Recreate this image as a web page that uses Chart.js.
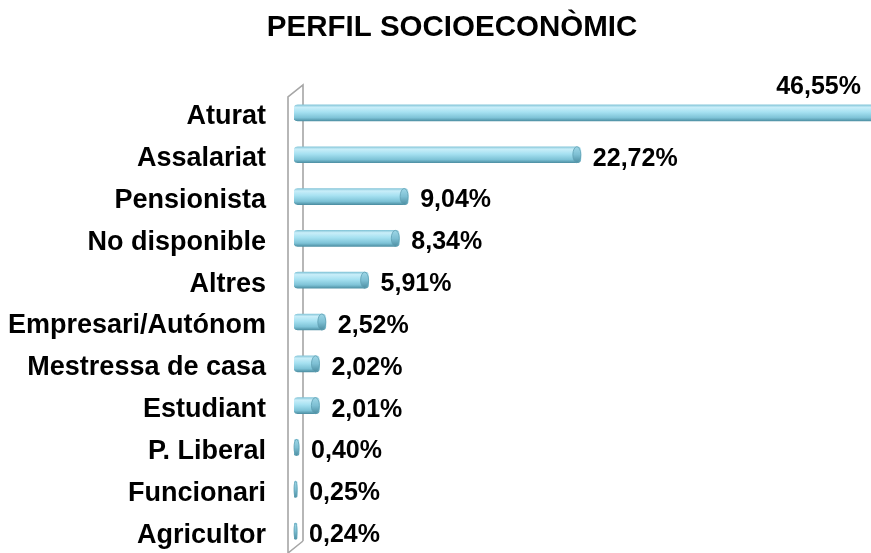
<!DOCTYPE html>
<html>
<head>
<meta charset="utf-8">
<script src="https://cdn.jsdelivr.net/npm/chart.js@4"></script>
<style>
  body { margin: 0; background: #fff; }
  #wrap { width: 871px; height: 553px; position: relative; }
</style>
</head>
<body>
<div id="wrap"><canvas id="perfilChart"></canvas></div>
<script>
const titleText = 'PERFIL SOCIOECONÒMIC';
const categories = ['Aturat', 'Assalariat', 'Pensionista', 'No disponible', 'Altres',
  'Empresari/Autónom', 'Mestressa de casa', 'Estudiant', 'P. Liberal', 'Funcionari', 'Agricultor'];
const percentages = [46.55, 22.72, 9.04, 8.34, 5.91, 2.52, 2.02, 2.01, 0.40, 0.25, 0.24];

const fontFamily = '"Liberation Sans", Arial, sans-serif';

function fmt(v) {
  return v.toFixed(2).replace('.', ',') + '%';
}

// gradient for the cylinder look, made per bar
function barGradient(context) {
  const chart = context.chart;
  const yScale = chart.scales.y;
  if (!yScale || context.dataIndex === undefined) return '#9ad8ec';
  const yc = yScale.getPixelForValue(context.dataIndex);
  if (!isFinite(yc)) return '#9ad8ec';
  const g = chart.ctx.createLinearGradient(0, yc - 8, 0, yc + 8);
  g.addColorStop(0, '#86c6d9');
  g.addColorStop(0.15, '#c9eef9');
  g.addColorStop(0.45, '#a6e1f1');
  g.addColorStop(0.8, '#7ec3d7');
  g.addColorStop(1, '#4f91a5');
  return g;
}

const extras = {
  id: 'extras',
  beforeDatasetsDraw(chart) {
    const ctx = chart.ctx;
    const a = chart.chartArea;
    // the little side wall
    const l = a.left - 6, r = a.left + 9;
    ctx.save();
    ctx.strokeStyle = '#a6a6a6';
    ctx.lineWidth = 1.6;
    ctx.beginPath();
    ctx.moveTo(r, 541);
    ctx.lineTo(r, 85);
    ctx.lineTo(l, 97);
    ctx.lineTo(l, 553);
    ctx.lineTo(r, 541);
    ctx.stroke();
    ctx.restore();
  },
  afterDatasetsDraw(chart) {
    const ctx = chart.ctx;
    const a = chart.chartArea;
    const meta = chart.getDatasetMeta(0);
    ctx.save();
    meta.data.forEach((bar, i) => {
      // end cap
      if (bar.x < a.right) {
        const w = bar.x - bar.base;
        const rx = Math.max(1, Math.min(4, w / 2));
        const g = ctx.createLinearGradient(0, bar.y - 8, 0, bar.y + 8);
        g.addColorStop(0, '#9fd7e7');
        g.addColorStop(0.5, '#7dbfd3');
        g.addColorStop(1, '#4d8ea2');
        ctx.beginPath();
        ctx.ellipse(bar.x - rx, bar.y, rx, 8, 0, 0, Math.PI * 2);
        ctx.fillStyle = g;
        ctx.fill();
        ctx.strokeStyle = '#5f9fb2';
        ctx.lineWidth = 0.8;
        ctx.stroke();
      }
      // value label
      ctx.fillStyle = '#000';
      ctx.font = 'bold 25px ' + fontFamily;
      ctx.textBaseline = 'middle';
      if (bar.x >= a.right) {
        ctx.textAlign = 'right';
        ctx.fillText(fmt(percentages[i]), 861, 87);
      } else {
        ctx.textAlign = 'left';
        ctx.fillText(fmt(percentages[i]), bar.x + 12, bar.y + 4);
      }
    });
    ctx.restore();
  },
  afterDraw(chart) {
    const ctx = chart.ctx;
    ctx.save();
    ctx.fillStyle = '#000';
    ctx.font = 'bold 29.5px ' + fontFamily;
    ctx.textAlign = 'center';
    ctx.textBaseline = 'middle';
    ctx.fillText(titleText, 452, 28);
    ctx.restore();
  }
};

const ctx = document.getElementById('perfilChart').getContext('2d');

let chart = new Chart(ctx, {
  type: 'bar',
  data: {
    labels: categories,
    datasets: [{
      data: percentages,
      backgroundColor: barGradient,
      borderWidth: 0,
      borderRadius: 4,
      borderSkipped: false,
      barThickness: 16
    }]
  },
  options: {
    indexAxis: 'y',
    responsive: true,
    maintainAspectRatio: false,
    animation: false,
    layout: {
      padding: { top: 92, right: 0, bottom: 1, left: 0 }
    },
    plugins: {
      legend: { display: false },
      tooltip: { enabled: false },
      title: { display: false }
    },
    scales: {
      x: {
        display: false,
        min: 0,
        max: 45.7
      },
      y: {
        afterFit(scale) {
          scale.width = 294;
          scale.paddingTop = 0;
          scale.paddingBottom = 0;
        },
        grid: { display: false, drawTicks: false },
        border: { display: false },
        ticks: {
          color: '#000',
          padding: 28,
          labelOffset: 4,
          autoSkip: false,
          font: { family: fontFamily, size: 27, weight: 'bold' }
        }
      }
    }
  },
  plugins: [extras]
});
</script>
</body>
</html>
